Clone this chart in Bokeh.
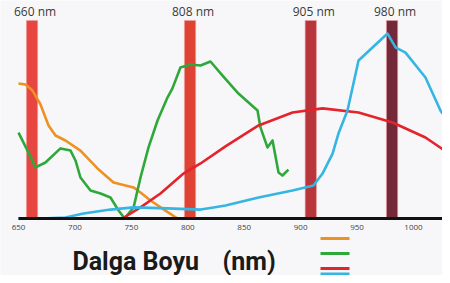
from bokeh.plotting import figure
from bokeh.models import Range1d, LinearAxis, FixedTicker
from bokeh.core.properties import value
from bokeh.embed import file_html
from bokeh.resources import INLINE

# Laser bands (centre nm as drawn) and labels
band_centers = [662, 802, 909, 981]
band_labels = ["660 nm", "808 nm", "905 nm", "980 nm"]
band_colors = ["#e6463f", "#de4334", "#b8363b", "#73293a"]
band_width = 10
band_top = 100
band_label_y = 104.5

# Curves (wavelength nm, relative value)
orange_x = [650, 656.2, 662.4, 669.5, 676.6, 682.8, 691.6, 704.9, 720.0, 734.2, 751.9, 758.1, 767.0, 780.2, 790.9]
orange_y = [68.2, 67.7, 64.6, 57.6, 47.0, 41.9, 39.4, 34.3, 25.3, 18.2, 15.7, 13.1, 9.1, 4.0, 0]

green_x = [650, 658.0, 665.1, 673.9, 687.2, 696.1, 700.5, 704.9, 713.8, 722.7, 731.5, 738.7, 744.0, 752.0,
           758.1, 765.2, 773.2, 782.0, 786.4, 793.5, 802.4, 811.3, 820.1, 830.8, 844.9, 861.8, 864.4,
           870.6, 875.1, 880.4, 883.9, 889.2]
green_y = [43.4, 34.3, 25.8, 28.3, 35.4, 34.3, 29.3, 20.7, 14.1, 12.6, 10.6, 4.0, 0, 5.6,
           20.7, 35.9, 49.5, 61.1, 65.7, 76.3, 77.8, 77.3, 79.3, 72.2, 63.1, 54.5, 46.0,
           35.9, 39.4, 23.2, 21.7, 24.7]

red_x = [742.1, 758.1, 775.8, 796.2, 811.3, 833.4, 862.7, 892.8, 919.4, 951.3, 981.4, 1010.6, 1032.8]
red_y = [0, 5.6, 12.6, 22.7, 27.8, 36.4, 47.0, 53.5, 55.6, 53.5, 48.5, 40.9, 32.3]

blue_x = [650, 669.5, 691.6, 707.6, 731.5, 751.9, 782.0, 811.3, 822.8, 833.4, 862.7, 892.8, 911.4,
          919.4, 928.3, 933.5, 941.5, 951.3, 977.0, 984.1, 992.9, 1010.6, 1023.9, 1032.8]
blue_y = [0, 0, 0.5, 2.5, 4.5, 5.6, 5.1, 4.5, 5.6, 6.6, 10.6, 14.1, 16.7,
          22.7, 32.8, 42.9, 54.5, 79.8, 93.4, 86.4, 83.8, 71.2, 54.5, 48.0]

curve_colors = ["#ee9120", "#2fa83a", "#e4232b", "#34b5e2"]

# Axis ticks
tick_values = [650, 700, 750, 800, 850, 900, 950, 1000]
tick_labels = ["650", "700", "750", "800", "850", "900", "950", "1000"]

# Legend swatches and title
legend_x0, legend_x1 = 917.6, 943.3
legend_y = [-10.1, -17.7, -25.3, -28.0]
title_parts = ["Dalga Boyu", "(nm)"]
title_x = [697.8, 830.8]
title_y = -21.7

X_MIN, X_MAX = 634.05, 1025.7
p = figure(width=442, height=275, output_backend="svg", toolbar_location=None,
           x_range=Range1d(X_MIN, X_MAX), y_range=Range1d(-28.79, 110.1),
           x_axis_type=None, y_axis_type=None, min_border=0,
           background_fill_color="#f7f7f9", border_fill_color="#f7f7f9",
           outline_line_color=None)
p.grid.visible = False

# bands
p.quad(left=[c - band_width / 2 for c in band_centers], right=[c + band_width / 2 for c in band_centers],
       bottom=0, top=band_top, fill_color=band_colors, line_color="#f2a0a0", line_width=1, line_alpha=0.6)

for xs, ys, col in [(orange_x, orange_y, curve_colors[0]), (green_x, green_y, curve_colors[1]),
                    (red_x, red_y, curve_colors[2]), (blue_x, blue_y, curve_colors[3])]:
    p.line(xs, ys, line_color=col, line_width=2.6, line_join="round")

p.text(x=band_centers, y=[band_label_y] * 4, text=band_labels, x_offset=3,
       text_align="center", text_baseline="middle", text_font=value("Open Sans"),
       text_font_size="12px", text_color="#3a3a3a")

# x axis placed at y=0
ax = LinearAxis(fixed_location=0, ticker=FixedTicker(ticks=tick_values),
                major_label_overrides={v: l for v, l in zip(tick_values, tick_labels)},
                bounds=(650, X_MAX), axis_line_color="#111111", axis_line_width=3,
                major_tick_line_color=None, minor_tick_line_color=None,
                major_label_text_font_size="8px", major_label_text_color="#444444",
                major_label_standoff=1, major_label_text_font="Open Sans")
p.add_layout(ax, "below")

# legend swatches
p.segment(x0=[legend_x0] * 4, x1=[legend_x1] * 4, y0=legend_y, y1=legend_y,
          line_color=curve_colors, line_width=3)

p.text(x=title_x, y=[title_y] * 2, text=title_parts, text_align="left",
       text_baseline="middle", text_font=value("Roboto"),
       text_font_style="bold", text_font_size="25px", text_color="#1a1a1a")

open("out.html", "w").write(file_html(p, INLINE))
